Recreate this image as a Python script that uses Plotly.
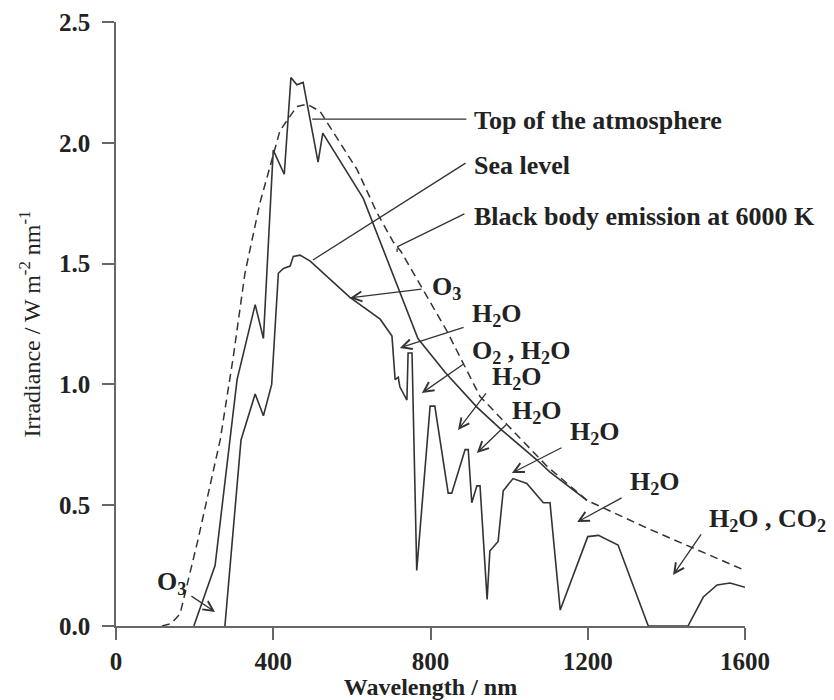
import plotly.graph_objects as go

# ---------------- data ----------------
toa_nm = [198, 252, 308, 354, 375, 400, 428, 445, 460, 476, 514, 526, 629, 718,
          768, 837, 918, 982, 1071, 1104, 1198]
toa_val = [0.0, 0.25, 1.02, 1.33, 1.19, 1.97, 1.87, 2.27, 2.24, 2.25, 1.92, 2.04, 1.77, 1.40,
           1.19, 1.05, 0.906, 0.81, 0.687, 0.637, 0.52]

sea_nm = [277, 318, 354, 375, 396, 413, 426, 443, 451, 468, 494, 595, 672, 702, 710, 718,
          722, 740, 743, 753, 765, 799, 811, 845, 854, 888, 896, 905, 918, 926, 944, 951,
          972, 985, 1010, 1045, 1087, 1104, 1130, 1200, 1227, 1277, 1354, 1455, 1494,
          1529, 1562, 1600]
sea_val = [0.0, 0.77, 0.96, 0.87, 1.00, 1.46, 1.48, 1.49, 1.53, 1.535, 1.51, 1.36, 1.27,
           1.20, 1.02, 1.03, 0.99, 0.935, 1.13, 1.13, 0.23, 0.91, 0.91, 0.55, 0.55, 0.73,
           0.73, 0.51, 0.58, 0.58, 0.11, 0.31, 0.35, 0.56, 0.61, 0.59, 0.51, 0.51, 0.066,
           0.37, 0.375, 0.335, 0.0, 0.0, 0.12, 0.17, 0.178, 0.16]

bb_nm = [117, 140, 163, 209, 265, 298, 328, 366, 417, 460, 486, 519, 613, 664, 705, 725,
         842, 926, 1097, 1198, 1358, 1486, 1600]
bb_val = [0.0, 0.01, 0.05, 0.36, 0.77, 1.11, 1.46, 1.75, 2.05, 2.15, 2.16, 2.13, 1.89,
          1.71, 1.59, 1.55, 1.22, 0.95, 0.66, 0.52, 0.40, 0.31, 0.23]

x_ticks = [0, 400, 800, 1200, 1600]
x_ticktext = ["0", "400", "800", "1200", "1600"]
y_ticks = [0.0, 0.5, 1.0, 1.5, 2.0, 2.5]
y_ticktext = ["0.0", "0.5", "1.0", "1.5", "2.0", "2.5"]

x_title = "Wavelength / nm"
y_title = "Irradiance / W m<sup>-2</sup> nm<sup>-1</sup>"

# labels: (text, x, y) — left edge / vertical middle in data units
label_text = ["Top of the atmosphere", "Sea level", "Black body emission at 6000 K",
              "O<sub>3</sub>", "H<sub>2</sub>O", "O<sub>2</sub> , H<sub>2</sub>O",
              "H<sub>2</sub>O", "H<sub>2</sub>O", "H<sub>2</sub>O", "H<sub>2</sub>O",
              "H<sub>2</sub>O , CO<sub>2</sub>", "O<sub>3</sub>"]
label_x = [906, 906, 906, 799, 900, 900, 951, 1002, 1150, 1302, 1503, 99]
label_y = [2.094, 1.904, 1.697, 1.399, 1.287, 1.134, 1.026, 0.886, 0.799, 0.592, 0.439, 0.178]

# leader lines (no head): tail -> end
lead_x0 = [895, 893, 890, 715]
lead_y0 = [2.098, 1.920, 1.709, 1.569]
lead_x1 = [499, 501, 715, 715]
lead_y1 = [2.098, 1.515, 1.569, 1.548]

# arrows: tail -> head
arr_x0 = [781, 888, 888, 944, 997, 1137, 1290, 1491, 188]
arr_y0 = [1.395, 1.238, 1.089, 0.969, 0.840, 0.741, 0.534, 0.385, 0.128]
arr_x1 = [595, 722, 778, 870, 918, 1007, 1173, 1417, 252]
arr_y1 = [1.358, 1.151, 0.964, 0.811, 0.716, 0.633, 0.430, 0.211, 0.058]

# ---------------- figure ----------------
SERIF = "Liberation Serif"
INK = "#222222"
CURVE = "#333333"
AXIS = "#666666"

fig = go.Figure()
fig.add_trace(go.Scatter(x=bb_nm, y=bb_val, mode="lines",
                         line=dict(color=CURVE, width=1.5, dash="8px,5px"),
                         hoverinfo="skip", showlegend=False))
fig.add_trace(go.Scatter(x=toa_nm, y=toa_val, mode="lines",
                         line=dict(color=CURVE, width=1.6),
                         hoverinfo="skip", showlegend=False))
fig.add_trace(go.Scatter(x=sea_nm, y=sea_val, mode="lines",
                         line=dict(color=CURVE, width=1.6),
                         hoverinfo="skip", showlegend=False))

annotations = []
for t, x, y in zip(label_text, label_x, label_y):
    annotations.append(dict(text=t, x=x, y=y, xref="x", yref="y",
                            xanchor="left", yanchor="middle", showarrow=False,
                            font=dict(family=SERIF, size=26, color=INK, weight="bold")))
for x0, y0, x1, y1 in zip(lead_x0, lead_y0, lead_x1, lead_y1):
    annotations.append(dict(text="", x=x1, y=y1, ax=x0, ay=y0, xref="x", yref="y",
                            axref="x", ayref="y", showarrow=True, arrowhead=0,
                            arrowwidth=1.3, arrowcolor=CURVE, standoff=0, startstandoff=0))
for x0, y0, x1, y1 in zip(arr_x0, arr_y0, arr_x1, arr_y1):
    annotations.append(dict(text="", x=x1, y=y1, ax=x0, ay=y0, xref="x", yref="y",
                            axref="x", ayref="y", showarrow=True, arrowhead=5,
                            arrowsize=1.5, arrowwidth=1.3, arrowcolor=CURVE,
                            standoff=0, startstandoff=0))

axis_common = dict(showline=True, linecolor=AXIS, linewidth=1.5, ticks="outside",
                   ticklen=12, tickwidth=1.5, tickcolor=AXIS, showgrid=False,
                   zeroline=False, fixedrange=True, automargin=False)

# the page body adds an 8px offset, so the figure is drawn 8px smaller
fig.update_layout(
    width=826, height=692, autosize=False,
    margin=dict(l=108, r=89, t=14, b=74),
    paper_bgcolor="white", plot_bgcolor="white",
    annotations=annotations,
    xaxis=dict(range=[0, 1600], tickvals=x_ticks, ticktext=x_ticktext,
               tickfont=dict(family=SERIF, size=25, color=INK, weight="bold"),
               ticklabelstandoff=0,
               title=dict(text=x_title, standoff=10,
                          font=dict(family=SERIF, size=24, color=INK, weight="bold")),
               **axis_common),
    yaxis=dict(range=[0, 2.5], tickvals=y_ticks, ticktext=y_ticktext,
               tickfont=dict(family=SERIF, size=25, color=INK, weight="bold"),
               ticklabelstandoff=7,
               title=dict(text=y_title, standoff=12,
                          font=dict(family=SERIF, size=24, color=INK)),
               **axis_common),
)

fig.write_html("out.html")
